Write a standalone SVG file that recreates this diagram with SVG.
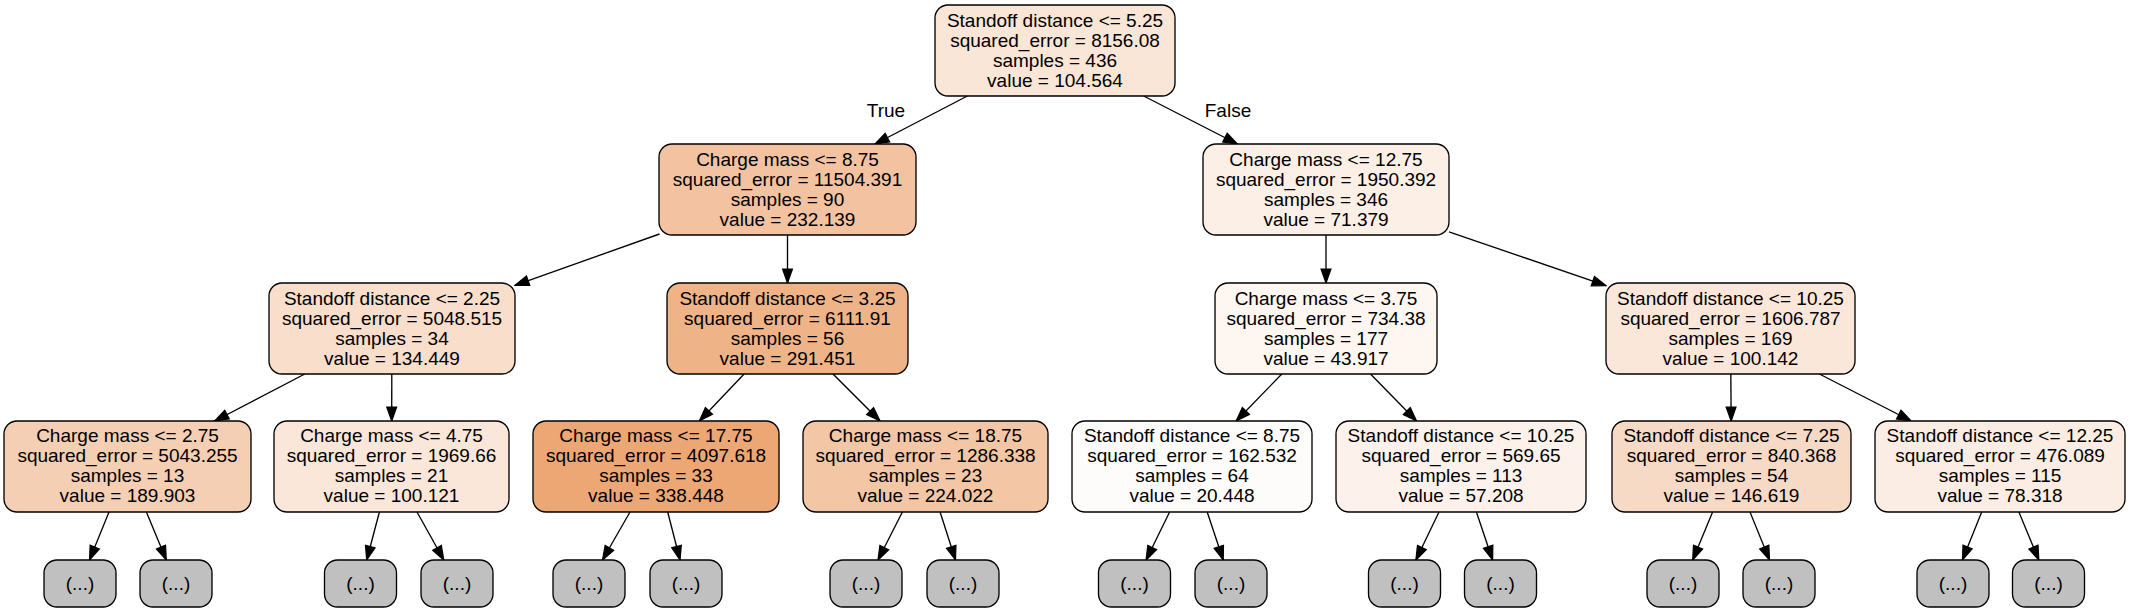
<svg xmlns="http://www.w3.org/2000/svg" width="2131" height="613" viewBox="0 0 2131 613">
<style>
.n rect{stroke:#000;stroke-width:1.33}
.g rect{fill:#c0c0c0;stroke:#000;stroke-width:1.33}
text{font-family:"Liberation Sans",Arial,Helvetica,sans-serif;font-size:19px;fill:#000;text-anchor:middle}
#edges line{stroke:#000;stroke-width:1.33;marker-end:url(#ah)}
</style>
<defs>
<marker id="ah" markerUnits="userSpaceOnUse" markerWidth="16" markerHeight="12" viewBox="-1 -1 15.3 11.4" refX="13.3" refY="4.7" orient="auto">
<path d="M0,0 L13.3,4.7 L0,9.4 z" fill="#000" stroke="#000" stroke-width="1.2" stroke-linejoin="miter"/>
</marker>
</defs>
<rect width="2131" height="613" fill="#fff"/>
<g id="edges">
<line x1="967.4" y1="96" x2="875.1" y2="144"/>
<line x1="1143.7" y1="96" x2="1237.3" y2="144"/>
<line x1="659.5" y1="234" x2="515" y2="285.3"/>
<line x1="787.5" y1="235" x2="787.5" y2="283"/>
<line x1="1326" y1="235" x2="1326" y2="283"/>
<line x1="1449" y1="231.8" x2="1606" y2="285.7"/>
<line x1="304.8" y1="374" x2="214.7" y2="421"/>
<line x1="391.8" y1="374" x2="391.7" y2="421"/>
<line x1="744.1" y1="374" x2="699.4" y2="421"/>
<line x1="833" y1="374" x2="880" y2="421"/>
<line x1="1281.8" y1="374" x2="1236.2" y2="421"/>
<line x1="1370.5" y1="374" x2="1416.5" y2="421"/>
<line x1="1730.8" y1="374" x2="1731.2" y2="421"/>
<line x1="1819.4" y1="374" x2="1911.1" y2="421"/>
<line x1="109" y1="512" x2="89.5" y2="560"/>
<line x1="146.4" y1="512" x2="166.3" y2="560"/>
<line x1="379.4" y1="512" x2="366.7" y2="560"/>
<line x1="417" y1="512" x2="443.8" y2="560"/>
<line x1="630" y1="512" x2="602.5" y2="560"/>
<line x1="667.7" y1="512" x2="680" y2="560"/>
<line x1="902.4" y1="512" x2="878" y2="560"/>
<line x1="940.1" y1="512" x2="955.5" y2="560"/>
<line x1="1169.6" y1="512" x2="1146.1" y2="560"/>
<line x1="1207.2" y1="512" x2="1223.2" y2="560"/>
<line x1="1439" y1="512" x2="1415.9" y2="560"/>
<line x1="1476.4" y1="512" x2="1492.6" y2="560"/>
<line x1="1712.6" y1="512" x2="1692.7" y2="560"/>
<line x1="1750" y1="512" x2="1769.5" y2="560"/>
<line x1="1981.7" y1="512" x2="1962.4" y2="560"/>
<line x1="2018.9" y1="512" x2="2038.8" y2="560"/>
<text x="886" y="117">True</text>
<text x="1228" y="117">False</text>
</g>
<g id="n0" class="n"><rect x="935" y="5" width="240" height="91" rx="13" fill="#fae6d7"/>
<text x="1055" y="26.5">Standoff distance &lt;= 5.25</text><text x="1055" y="46.5">squared_error = 8156.08</text><text x="1055" y="66.5">samples = 436</text><text x="1055" y="86.5">value = 104.564</text></g>
<g id="n1" class="n"><rect x="659" y="144" width="257" height="91" rx="13" fill="#f3c3a1"/>
<text x="787.5" y="165.5">Charge mass &lt;= 8.75</text><text x="787.5" y="185.5">squared_error = 11504.391</text><text x="787.5" y="205.5">samples = 90</text><text x="787.5" y="225.5">value = 232.139</text></g>
<g id="n8" class="n"><rect x="1203" y="144" width="246" height="91" rx="13" fill="#fcefe5"/>
<text x="1326" y="165.5">Charge mass &lt;= 12.75</text><text x="1326" y="185.5">squared_error = 1950.392</text><text x="1326" y="205.5">samples = 346</text><text x="1326" y="225.5">value = 71.379</text></g>
<g id="n2" class="n"><rect x="269" y="283" width="246" height="91" rx="13" fill="#f8decb"/>
<text x="392" y="304.5">Standoff distance &lt;= 2.25</text><text x="392" y="324.5">squared_error = 5048.515</text><text x="392" y="344.5">samples = 34</text><text x="392" y="364.5">value = 134.449</text></g>
<g id="n5" class="n"><rect x="667" y="283" width="241" height="91" rx="13" fill="#efb388"/>
<text x="787.5" y="304.5">Standoff distance &lt;= 3.25</text><text x="787.5" y="324.5">squared_error = 6111.91</text><text x="787.5" y="344.5">samples = 56</text><text x="787.5" y="364.5">value = 291.451</text></g>
<g id="n9" class="n"><rect x="1215" y="283" width="222" height="91" rx="13" fill="#fdf6f1"/>
<text x="1326" y="304.5">Charge mass &lt;= 3.75</text><text x="1326" y="324.5">squared_error = 734.38</text><text x="1326" y="344.5">samples = 177</text><text x="1326" y="364.5">value = 43.917</text></g>
<g id="n12" class="n"><rect x="1606" y="283" width="249" height="91" rx="13" fill="#fae7d9"/>
<text x="1730.5" y="304.5">Standoff distance &lt;= 10.25</text><text x="1730.5" y="324.5">squared_error = 1606.787</text><text x="1730.5" y="344.5">samples = 169</text><text x="1730.5" y="364.5">value = 100.142</text></g>
<g id="n3" class="n"><rect x="4" y="421" width="247" height="91" rx="13" fill="#f5cfb3"/>
<text x="127.5" y="442">Charge mass &lt;= 2.75</text><text x="127.5" y="462">squared_error = 5043.255</text><text x="127.5" y="482">samples = 13</text><text x="127.5" y="502">value = 189.903</text></g>
<g id="n4" class="n"><rect x="274" y="421" width="235" height="91" rx="13" fill="#fae7d9"/>
<text x="391.5" y="442">Charge mass &lt;= 4.75</text><text x="391.5" y="462">squared_error = 1969.66</text><text x="391.5" y="482">samples = 21</text><text x="391.5" y="502">value = 100.121</text></g>
<g id="n6" class="n"><rect x="533" y="421" width="246" height="91" rx="13" fill="#eda774"/>
<text x="656" y="442">Charge mass &lt;= 17.75</text><text x="656" y="462">squared_error = 4097.618</text><text x="656" y="482">samples = 33</text><text x="656" y="502">value = 338.448</text></g>
<g id="n7" class="n"><rect x="803" y="421" width="245" height="91" rx="13" fill="#f3c6a5"/>
<text x="925.5" y="442">Charge mass &lt;= 18.75</text><text x="925.5" y="462">squared_error = 1286.338</text><text x="925.5" y="482">samples = 23</text><text x="925.5" y="502">value = 224.022</text></g>
<g id="n10" class="n"><rect x="1072" y="421" width="240" height="91" rx="13" fill="#fefcfb"/>
<text x="1192" y="442">Standoff distance &lt;= 8.75</text><text x="1192" y="462">squared_error = 162.532</text><text x="1192" y="482">samples = 64</text><text x="1192" y="502">value = 20.448</text></g>
<g id="n11" class="n"><rect x="1336" y="421" width="250" height="91" rx="13" fill="#fcf2eb"/>
<text x="1461" y="442">Standoff distance &lt;= 10.25</text><text x="1461" y="462">squared_error = 569.65</text><text x="1461" y="482">samples = 113</text><text x="1461" y="502">value = 57.208</text></g>
<g id="n13" class="n"><rect x="1612" y="421" width="239" height="91" rx="13" fill="#f7dac6"/>
<text x="1731.5" y="442">Standoff distance &lt;= 7.25</text><text x="1731.5" y="462">squared_error = 840.368</text><text x="1731.5" y="482">samples = 54</text><text x="1731.5" y="502">value = 146.619</text></g>
<g id="n14" class="n"><rect x="1875" y="421" width="250" height="91" rx="13" fill="#fbede3"/>
<text x="2000" y="442">Standoff distance &lt;= 12.25</text><text x="2000" y="462">squared_error = 476.089</text><text x="2000" y="482">samples = 115</text><text x="2000" y="502">value = 78.318</text></g>
<g id="g1" class="g"><rect x="44" y="560" width="72" height="47" rx="13"/><text x="80" y="590">(...)</text></g>
<g id="g2" class="g"><rect x="140" y="560" width="72" height="47" rx="13"/><text x="176" y="590">(...)</text></g>
<g id="g3" class="g"><rect x="324.5" y="560" width="72" height="47" rx="13"/><text x="360.5" y="590">(...)</text></g>
<g id="g4" class="g"><rect x="421" y="560" width="72" height="47" rx="13"/><text x="457" y="590">(...)</text></g>
<g id="g5" class="g"><rect x="553" y="560" width="72" height="47" rx="13"/><text x="589" y="590">(...)</text></g>
<g id="g6" class="g"><rect x="650" y="560" width="72" height="47" rx="13"/><text x="686" y="590">(...)</text></g>
<g id="g7" class="g"><rect x="830" y="560" width="72" height="47" rx="13"/><text x="866" y="590">(...)</text></g>
<g id="g8" class="g"><rect x="927" y="560" width="72" height="47" rx="13"/><text x="963" y="590">(...)</text></g>
<g id="g9" class="g"><rect x="1098.5" y="560" width="72" height="47" rx="13"/><text x="1134.5" y="590">(...)</text></g>
<g id="g10" class="g"><rect x="1195" y="560" width="72" height="47" rx="13"/><text x="1231" y="590">(...)</text></g>
<g id="g11" class="g"><rect x="1368.5" y="560" width="72" height="47" rx="13"/><text x="1404.5" y="590">(...)</text></g>
<g id="g12" class="g"><rect x="1464.5" y="560" width="72" height="47" rx="13"/><text x="1500.5" y="590">(...)</text></g>
<g id="g13" class="g"><rect x="1647" y="560" width="72" height="47" rx="13"/><text x="1683" y="590">(...)</text></g>
<g id="g14" class="g"><rect x="1743" y="560" width="72" height="47" rx="13"/><text x="1779" y="590">(...)</text></g>
<g id="g15" class="g"><rect x="1917" y="560" width="72" height="47" rx="13"/><text x="1953" y="590">(...)</text></g>
<g id="g16" class="g"><rect x="2012.5" y="560" width="72" height="47" rx="13"/><text x="2048.5" y="590">(...)</text></g>
</svg>
